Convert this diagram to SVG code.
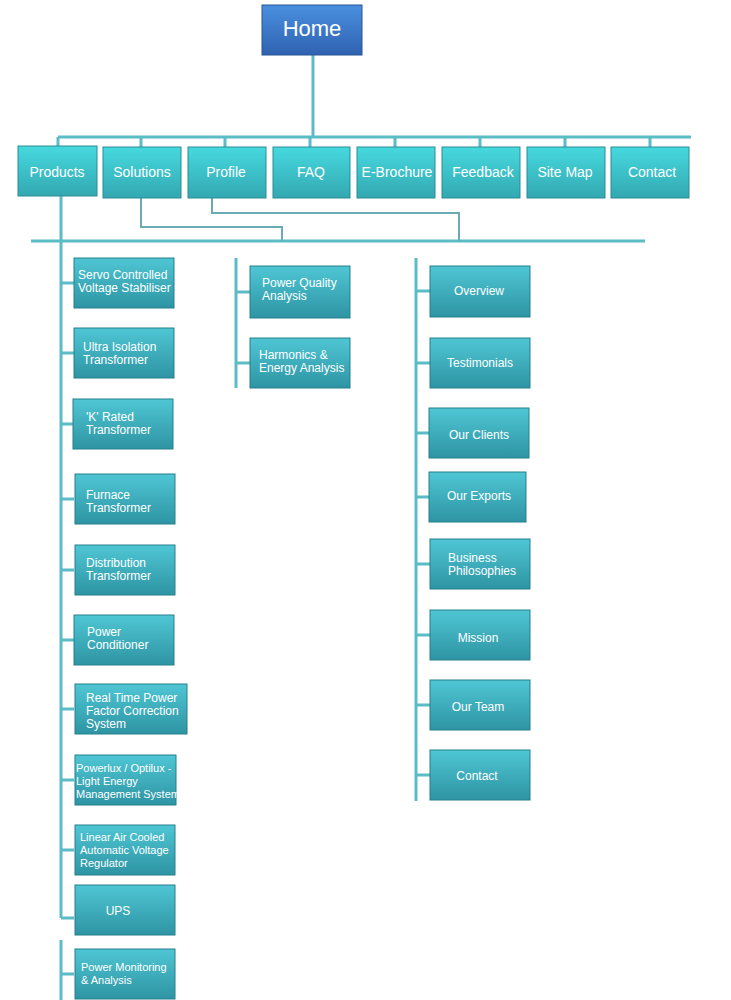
<svg xmlns="http://www.w3.org/2000/svg" width="731" height="1000" viewBox="0 0 731 1000">
<defs>
<linearGradient id="gh" x1="0" y1="0" x2="0" y2="1"><stop offset="0" stop-color="#4a8fe0"/><stop offset="1" stop-color="#2f62b0"/></linearGradient>
<linearGradient id="gn" x1="0" y1="0" x2="0" y2="1"><stop offset="0" stop-color="#46d9df"/><stop offset="1" stop-color="#33a8b1"/></linearGradient>
<linearGradient id="gc" x1="0" y1="0" x2="0" y2="1"><stop offset="0" stop-color="#4fc6d4"/><stop offset="1" stop-color="#2e94a3"/></linearGradient>
<style>
.h{fill:url(#gh);stroke:#2a5595;stroke-width:1}
.n{fill:url(#gn);stroke:#2b8c94;stroke-width:1}
.c{fill:url(#gc);stroke:#25808c;stroke-width:1}
text{font-family:"Liberation Sans",Arial,sans-serif;fill:#fff}
.t{font-size:14px;text-anchor:middle}
.s{font-size:12px}
.l{stroke:#5bbcc5;stroke-width:3;fill:none}
.k{stroke:#6aabb4;stroke-width:2;fill:none}
</style>
</defs>
<g id="connectors">
<path class="l" d="M313 55V137M58 137H691M58 137V146M141 137V147M225 137V147M310 137V147M395 137V147M480 137V147M565 137V147M650 137V147"/>
<path class="l" d="M31 241H645"/>
<path class="k" d="M141 198V227H282V241M212 198V213H459V241"/>
<path class="l" d="M61 196V918M61 940V1000M61 283H74M61 353H74M61 424H74M61 499H74M61 570H74M61 640H74M61 709H74M61 780H74M61 850H74M61 918H74M61 974H74"/>
<path class="l" d="M236 258V388M236 292H250M236 363H250"/>
<path class="l" d="M416 258V801M416 291H430M416 363H430M416 433H430M416 497H430M416 564H430M416 635H430M416 705H430M416 775H430"/>
</g>
<g id="home"><rect class="h" x="262" y="5" width="100" height="50"/><text x="312" y="36" font-size="22" text-anchor="middle">Home</text></g>
<g id="products"><rect class="n" x="18" y="146" width="79" height="50"/><text class="t" x="57" y="177">Products</text></g>
<g id="solutions"><rect class="n" x="103" y="147" width="78" height="51"/><text class="t" x="142" y="177">Solutions</text></g>
<g id="profile"><rect class="n" x="188" y="147" width="78" height="51"/><text class="t" x="226" y="177">Profile</text></g>
<g id="faq"><rect class="n" x="273" y="147" width="77" height="51"/><text class="t" x="311" y="177">FAQ</text></g>
<g id="ebrochure"><rect class="n" x="357" y="147" width="78" height="51"/><text class="t" x="397" y="177">E-Brochure</text></g>
<g id="feedback"><rect class="n" x="442" y="147" width="78" height="51"/><text class="t" x="483" y="177">Feedback</text></g>
<g id="sitemap"><rect class="n" x="527" y="147" width="78" height="51"/><text class="t" x="565" y="177">Site Map</text></g>
<g id="contact"><rect class="n" x="611" y="147" width="78" height="51"/><text class="t" x="652" y="177">Contact</text></g>
<g id="p1"><rect class="c" x="74" y="258" width="100" height="50"/><text class="s" x="78" y="279">Servo Controlled</text><text class="s" x="78" y="292">Voltage Stabiliser</text></g>
<g id="p2"><rect class="c" x="74" y="328" width="100" height="50"/><text class="s" x="83" y="351">Ultra Isolation</text><text class="s" x="83" y="364">Transformer</text></g>
<g id="p3"><rect class="c" x="73" y="399" width="100" height="50"/><text class="s" x="86" y="421">'K' Rated</text><text class="s" x="86" y="434">Transformer</text></g>
<g id="p4"><rect class="c" x="75" y="474" width="100" height="50"/><text class="s" x="86" y="499">Furnace</text><text class="s" x="86" y="512">Transformer</text></g>
<g id="p5"><rect class="c" x="75" y="545" width="100" height="50"/><text class="s" x="86" y="567">Distribution</text><text class="s" x="86" y="580">Transformer</text></g>
<g id="p6"><rect class="c" x="74" y="615" width="100" height="50"/><text class="s" x="87" y="636">Power</text><text class="s" x="87" y="649">Conditioner</text></g>
<g id="p7"><rect class="c" x="75" y="684" width="112" height="50"/><text class="s" x="86" y="702" font-size="11">Real Time Power</text><text class="s" x="86" y="715" font-size="11">Factor Correction</text><text class="s" x="86" y="728" font-size="11">System</text></g>
<g id="p8"><rect class="c" x="75" y="755" width="101" height="50"/><text x="76" y="772" font-size="11">Powerlux / Optilux -</text><text x="76" y="785" font-size="11">Light Energy</text><text x="76" y="798" font-size="11">Management System</text></g>
<g id="p9"><rect class="c" x="75" y="825" width="100" height="50"/><text x="80" y="841" font-size="11">Linear Air Cooled</text><text x="80" y="854" font-size="11">Automatic Voltage</text><text x="80" y="867" font-size="11">Regulator</text></g>
<g id="p10"><rect class="c" x="75" y="885" width="100" height="50"/><text class="s" x="118" y="915" text-anchor="middle">UPS</text></g>
<g id="p11"><rect class="c" x="75" y="949" width="100" height="50"/><text x="81" y="971" font-size="11">Power Monitoring</text><text x="81" y="984" font-size="11">&amp; Analysis</text></g>
<g id="s1"><rect class="c" x="250" y="266" width="100" height="52"/><text class="s" x="262" y="287">Power Quality</text><text class="s" x="262" y="300">Analysis</text></g>
<g id="s2"><rect class="c" x="250" y="338" width="100" height="50"/><text class="s" x="259" y="359">Harmonics &amp;</text><text class="s" x="259" y="372">Energy Analysis</text></g>
<g id="r1"><rect class="c" x="430" y="266" width="100" height="51"/><text class="s" x="479" y="295" text-anchor="middle">Overview</text></g>
<g id="r2"><rect class="c" x="430" y="338" width="100" height="50"/><text class="s" x="480" y="367" text-anchor="middle">Testimonials</text></g>
<g id="r3"><rect class="c" x="429" y="408" width="100" height="50"/><text class="s" x="479" y="439" text-anchor="middle">Our Clients</text></g>
<g id="r4"><rect class="c" x="429" y="472" width="97" height="50"/><text class="s" x="479" y="500" text-anchor="middle">Our Exports</text></g>
<g id="r5"><rect class="c" x="430" y="539" width="100" height="50"/><text class="s" x="448" y="562">Business</text><text class="s" x="448" y="575">Philosophies</text></g>
<g id="r6"><rect class="c" x="430" y="610" width="100" height="50"/><text class="s" x="478" y="642" text-anchor="middle">Mission</text></g>
<g id="r7"><rect class="c" x="430" y="680" width="100" height="50"/><text class="s" x="478" y="711" text-anchor="middle">Our Team</text></g>
<g id="r8"><rect class="c" x="430" y="750" width="100" height="50"/><text class="s" x="477" y="780" text-anchor="middle">Contact</text></g>
</svg>
